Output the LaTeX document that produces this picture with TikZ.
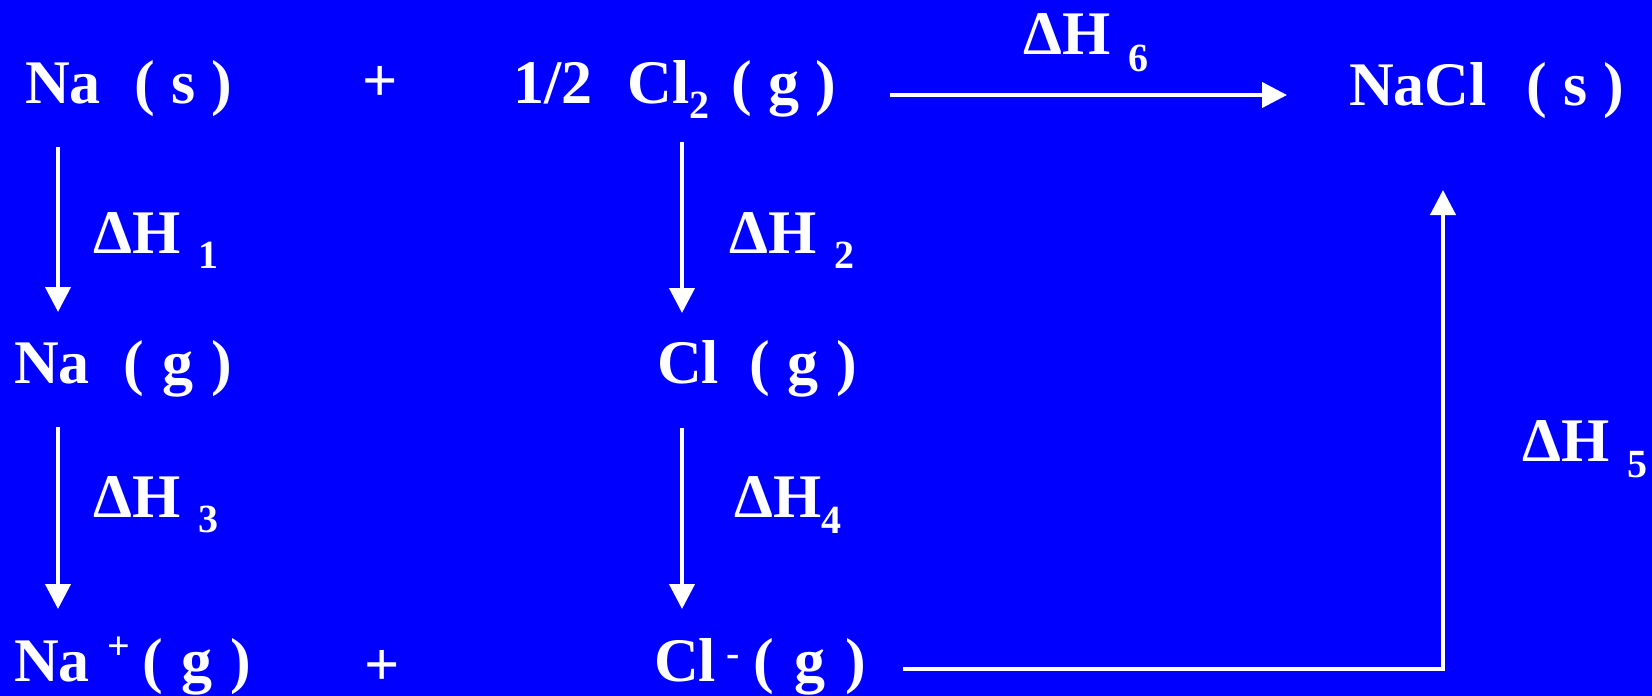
\documentclass[tikz,border=0pt]{standalone}
\usepackage{fontspec}
\setmainfont{Liberation Serif}
\usetikzlibrary{arrows.meta}
\definecolor{bgblue}{RGB}{0,0,255}
\newcommand{\subs}[2]{\raisebox{#1}{\fontsize{40}{40}\selectfont #2}}
\newcommand{\paren}[2]{(\hspace{#1}#2\hspace{#1})}
\begin{document}
\begin{tikzpicture}[x=1pt,y=-1pt,
  chem/.style={text=white, font=\bfseries\fontsize{62}{62}\selectfont, inner sep=0pt, anchor=base west},
  dh/.style={text=white, font=\bfseries\fontsize{62}{62}\selectfont, inner sep=0pt, anchor=base west},
  arr/.style={draw=white, line width=4pt, -{Triangle[width=25pt,length=25pt]}}]
\fill[bgblue] (0,0) rectangle (1652,696);
\useasboundingbox (0,0) rectangle (1652,696);
% row 1
\node[chem] (nas) at (25,103) {Na\hspace{34pt}\paren{16pt}{s}};
\node[chem, anchor=base] (plus1) at (380,101) {+};
\node[chem] (cl2) at (513,103) {1/2\hspace{35pt}Cl\subs{-15pt}{2}\hspace{22pt}\paren{16pt}{g}};
\node[chem] (nacl) at (1349,105) {NaCl\hspace{40pt}\paren{16pt}{s}};
% row 2
\node[chem] (nag) at (14,383) {Na\hspace{34pt}\paren{18pt}{g}};
\node[chem] (clg) at (657,383) {Cl\hspace{30pt}\paren{18pt}{g}};
% row 3
\node[chem] (naion) at (14,681) {Na\hspace{18pt}\subs{22pt}{+}\hspace{12pt}\paren{18pt}{g}};
\node[chem, anchor=base] (plus2) at (382,685) {+};
\node[chem] (clion) at (654,681) {Cl\hspace{10pt}\subs{15pt}{-}\hspace{14pt}\paren{20pt}{g}};
% labels
\node[dh] (dh1) at (93,253) {ΔH\hspace{18pt}\subs{-15pt}{1}};
\node[dh] (dh2) at (729,253) {ΔH\hspace{18pt}\subs{-15pt}{2}};
\node[dh] (dh3) at (93,517) {ΔH\hspace{18pt}\subs{-15pt}{3}};
\node[dh] (dh4) at (734,517) {ΔH\subs{-16pt}{4}};
\node[dh] (dh5) at (1522,461) {ΔH\hspace{18pt}\subs{-16pt}{5}};
\node[dh] (dh6) at (1023,54) {ΔH\hspace{18pt}\subs{-17pt}{6}};
% arrow end points
\coordinate (a1s) at (58,147);  \coordinate (a1e) at (58,312);
\coordinate (a2s) at (682,142); \coordinate (a2e) at (682,313);
\coordinate (a3s) at (58,427);  \coordinate (a3e) at (58,609);
\coordinate (a4s) at (682,428); \coordinate (a4e) at (682,609);
\coordinate (a6s) at (890,95);  \coordinate (a6e) at (1287,95);
\coordinate (a5s) at (903,669); \coordinate (a5c) at (1443,669); \coordinate (a5e) at (1443,190);
\draw[arr] (a1s) -- (a1e);
\draw[arr] (a2s) -- (a2e);
\draw[arr] (a3s) -- (a3e);
\draw[arr] (a4s) -- (a4e);
\draw[arr] (a6s) -- (a6e);
\draw[arr] (a5s) -- (a5c) -- (a5e);
\end{tikzpicture}
\end{document}
